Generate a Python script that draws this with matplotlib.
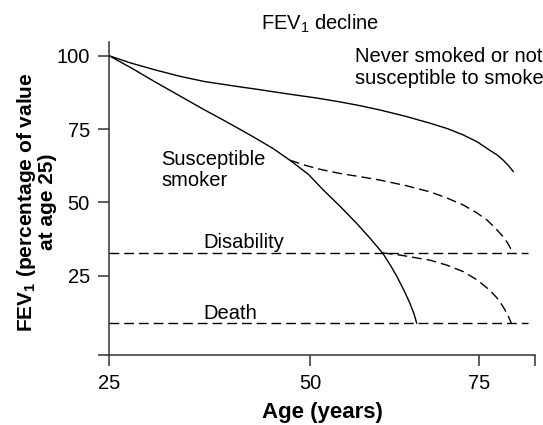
import numpy as np
import matplotlib
matplotlib.use("Agg")
import matplotlib.pyplot as plt

plt.rcParams['font.family'] = ['Liberation Sans', 'DejaVu Sans']
plt.rcParams['mathtext.default'] = 'regular'

# Data (age in years, FEV1 as % of value at age 25)
never_age = [25, 27.6, 30.7, 33.8, 36.9, 41.3, 43.1, 47.5, 51.0, 54.4, 57.4, 60.4, 64.1,
             67.8, 70.3, 72.7, 74.8, 76.6, 77.7, 78.6, 79.4, 80.1]
never_fev = [100, 97.6, 95.2, 93.0, 91.2, 89.4, 88.7, 86.9, 85.6, 84.3, 83.0, 81.5, 79.4,
             77.0, 75.2, 73.0, 70.6, 67.8, 66.2, 64.4, 62.5, 60.5]

smoker_age = [25, 27.9, 30.7, 33.8, 36.9, 39.2, 41.3, 43.1, 45.4, 47.5, 49.8, 52.0, 54.5,
              56.9, 58.9, 60.8, 61.9, 62.9, 63.9, 64.8, 65.4, 65.8]
smoker_fev = [100, 95.6, 91.1, 86.3, 81.5, 78.1, 74.9, 72.1, 68.4, 64.4, 59.6, 54.2, 48.6,
              42.9, 37.8, 32.6, 28.6, 24.6, 20.1, 15.6, 12.0, 8.8]

quit1_age = [47.5, 49.5, 51.5, 54.4, 57.4, 60.4, 64.1, 67.8, 70.3, 72.7, 74.6, 76.2, 77.5,
             78.6, 79.3, 79.8]
quit1_fev = [64.4, 62.6, 61.3, 59.9, 58.8, 57.6, 55.8, 53.6, 51.5, 49.1, 46.6, 44.0, 41.1,
             38.3, 36.0, 33.8]

quit2_age = [60.8, 63.5, 67.8, 70.3, 72.7, 74.8, 76.6, 77.7, 78.6, 79.3, 79.8]
quit2_fev = [32.8, 32.0, 30.3, 28.6, 26.4, 23.5, 20.1, 17.4, 14.4, 11.5, 8.8]

disability_level = 32.8
death_level = 8.8
threshold_end_age = 82.3

x_ticks = [25, 50, 75]
y_ticks = [25, 50, 75, 100]

# piecewise-linear age axis (schematic, not to scale)
ages_bp = np.array([0.0, 25.0, 50.0, 75.0, 100.0])
pos_bp = np.array([-25 * 8.028, 0.0, 200.7, 369.7, 369.7 + 25 * 6.76])

def fwd(x):
    return np.interp(x, ages_bp, pos_bp)

def inv(p):
    return np.interp(p, pos_bp, ages_bp)

fig = plt.figure(figsize=(5.43, 4.25), dpi=100)
ax = fig.add_axes([109.3 / 543, 1 - 355 / 425, (535 - 109.3) / 543, (355 - 42) / 425])
ax.set_xscale('function', functions=(fwd, inv))

lw = 1.0
dash = (0, (7, 3.6))
kw = dict(color='black', lw=lw, solid_joinstyle='round', solid_capstyle='round')
ax.plot(never_age, never_fev, **kw)
ax.plot(smoker_age, smoker_fev, **kw)
ax.plot(quit1_age, quit1_fev, linestyle=dash, **kw)
ax.plot(quit2_age, quit2_fev, linestyle=dash, **kw)
ax.plot([25, threshold_end_age], [disability_level] * 2, linestyle=dash, **kw)
ax.plot([25, threshold_end_age], [death_level] * 2, linestyle=dash, **kw)

ax.set_xlim(25, 83.3)
ax.set_ylim(-2, 104.7)

for s in ['top', 'right']:
    ax.spines[s].set_visible(False)
for s in ['left', 'bottom']:
    ax.spines[s].set_linewidth(1.1)
    ax.spines[s].set_color('#333333')

ax.set_xticks(x_ticks + [83.3])
ax.set_xticklabels([str(t) for t in x_ticks] + [''])
ax.set_yticks([-2] + y_ticks)
ax.set_yticklabels([''] + [str(t) for t in y_ticks])
ax.tick_params(axis='both', length=8, width=1.1, color='#333333', labelsize=14.5, direction='out')
ax.tick_params(axis='x', pad=6)
ax.tick_params(axis='y', pad=6)

fs = 14.5
ax.set_xlabel('Age (years)', fontsize=16, fontweight='bold', labelpad=6)
fig.text(36 / 543, 1 - 202 / 425, 'FEV$_1$ (percentage of value\nat age 25)', rotation=90,
         ha='center', va='center', fontsize=15, fontweight='bold', linespacing=1.0)

fig.text(320 / 543, 1 - 24 / 425, 'FEV$_1$ decline', ha='center', va='center', fontsize=14.5)
ax.text(0.577, 0.9185, 'Never smoked or not\nsusceptible to smoke', transform=ax.transAxes,
        ha='left', va='center', fontsize=fs, linespacing=1.15)
ax.text(31.5, 61.0, 'Susceptible\nsmoker', ha='left', va='center', fontsize=fs, linespacing=1.15)
ax.text(36.7, 36.5, 'Disability', ha='left', va='center', fontsize=fs)
ax.text(36.7, 12.3, 'Death', ha='left', va='center', fontsize=fs)

fig.savefig('out.png', dpi=100)
